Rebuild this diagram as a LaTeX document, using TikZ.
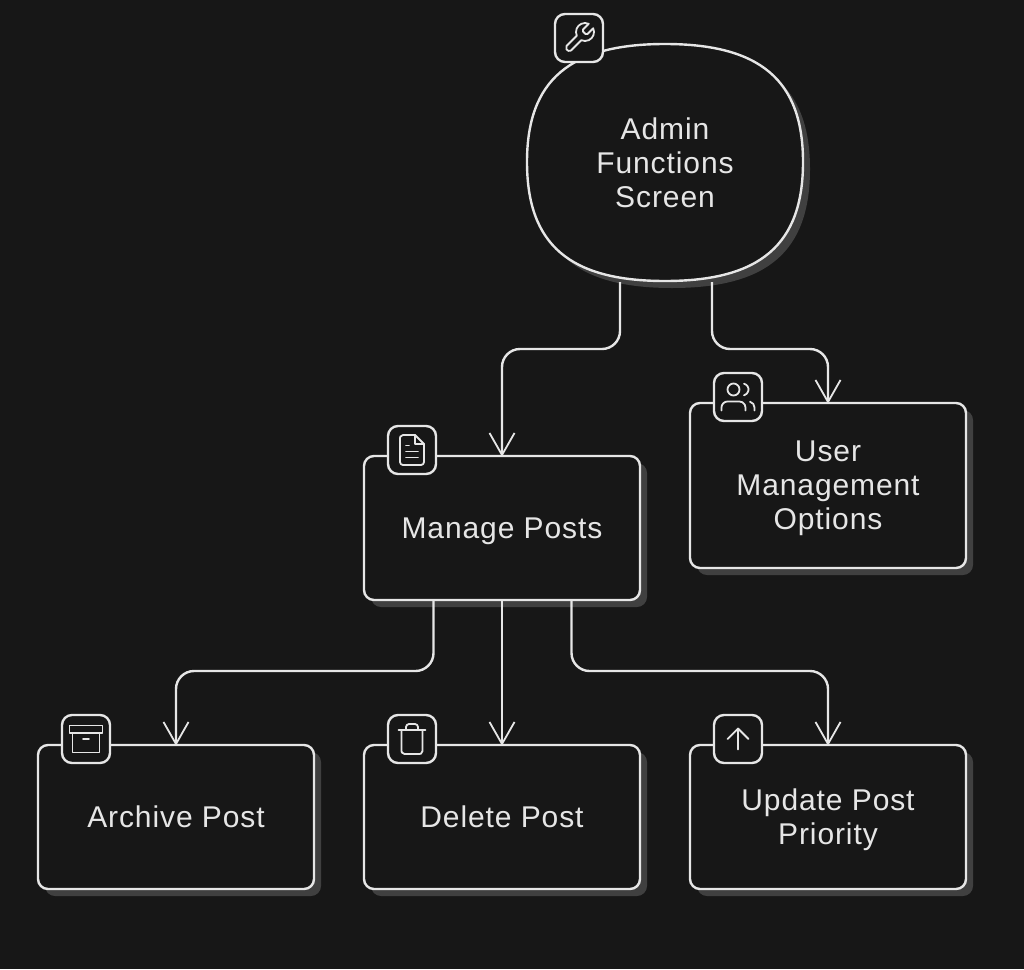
\documentclass[tikz,border=0pt]{standalone}
\usepackage{fontspec}
\setmainfont[LetterSpace=3]{Liberation Sans}
\usetikzlibrary{arrows.meta,calc,svg.path}
\definecolor{bgc}{HTML}{171717}
\definecolor{shc}{HTML}{404040}
\definecolor{lnc}{HTML}{E6E6E6}
\newcommand{\ls}{\rule[-7pt]{0pt}{34pt}}
\tikzset{
  box/.style={draw=lnc,line width=2.4pt,fill=bgc,rounded corners=10pt,minimum width=276pt,minimum height=144pt,inner sep=0pt,align=center,text=lnc,font=\fontsize{30}{34}\selectfont},
  shadowbox/.style={fill=shc,rounded corners=10pt},
  iconbox/.style={draw=lnc,line width=2.4pt,fill=bgc,rounded corners=10pt,minimum size=48pt,inner sep=0pt},
  conn/.style={draw=lnc,line width=2.4pt,rounded corners=18pt,shorten >=-2pt,-{Straight Barb[length=22pt,width=25pt,line width=1.8pt]}},
  glyph/.style={draw=lnc,line width=1.8pt,line cap=round,line join=round},
}
\newcommand{\glyphat}[2]{\begin{scope}[shift={(#1)},xscale=1.5,yscale=-1.5,shift={(-12,12)},glyph]#2\end{scope}}
\begin{document}
\begin{tikzpicture}[x=1pt,y=-1pt]
\useasboundingbox[fill=bgc] (0,0) rectangle (1024,969);
% shadows
\fill[shc,shift={(7,7)}] (527,162) .. controls (527,80) and (570,44) .. (665,44) .. controls (760,44) and (803,80) .. (803,162) .. controls (803,245) and (760,281) .. (665,281) .. controls (570,281) and (527,245) .. (527,162) -- cycle;
\fill[shadowbox] (371,463) rectangle (647,607);
\fill[shadowbox] (697,410) rectangle (973,575);
\fill[shadowbox] (45,752) rectangle (321,896);
\fill[shadowbox] (371,752) rectangle (647,896);
\fill[shadowbox] (697,752) rectangle (973,896);
% blob
\filldraw[draw=lnc,fill=bgc,line width=2.4pt] (527,162) .. controls (527,80) and (570,44) .. (665,44) .. controls (760,44) and (803,80) .. (803,162) .. controls (803,245) and (760,281) .. (665,281) .. controls (570,281) and (527,245) .. (527,162) -- cycle;
\node[inner sep=0pt,minimum width=276pt,minimum height=237pt,align=center,text=lnc,font=\fontsize{30}{34}\selectfont] (admin) at (665,163.5) {\ls Admin\\\ls Functions\\\ls Screen};
% boxes
\node[box] (manage) at (502,528) {\ls Manage Posts};
\node[box,minimum height=165pt] (users) at (828,485.5) {\ls User\\\ls Management\\\ls Options};
\node[box] (archive) at (176,817) {\ls Archive Post};
\node[box] (delete) at (502,817) {\ls Delete Post};
\node[box] (update) at (828,817) {\ls Update Post\\\ls Priority};
% connectors
\coordinate (r1) at (0,349);
\coordinate (r2) at (0,671);
\coordinate (a1) at ([xshift=-45pt]admin.south);
\coordinate (a2) at ([xshift=47pt]admin.south);
\coordinate (m1) at ([xshift=-68.5pt]manage.south);
\coordinate (m3) at ([xshift=69.5pt]manage.south);
\draw[conn] (a1) -- (a1|-r1) -- (manage.north|-r1) -- (manage.north);
\draw[conn] (a2) -- (a2|-r1) -- (users.north|-r1) -- (users.north);
\draw[conn] (m1) -- (m1|-r2) -- (archive.north|-r2) -- (archive.north);
\draw[conn] (manage.south) -- (delete.north);
\draw[conn] (m3) -- (m3|-r2) -- (update.north|-r2) -- (update.north);
% icon boxes
\node[iconbox] (iw) at (579,38) {};
\node[iconbox] (iu) at (738,397) {};
\node[iconbox] (if) at (412,450) {};
\node[iconbox] (ia) at (86,739) {};
\node[iconbox] (id) at (412,739) {};
\node[iconbox] (ip) at (738,739) {};
% glyphs
\glyphat{iw}{\draw svg {M14.7 6.3a1 1 0 0 0 0 1.4l1.6 1.6a1 1 0 0 0 1.4 0l3.77-3.77a6 6 0 0 1-7.94 7.94l-6.91 6.91a2.2 2.2 0 0 1-3-3l6.91-6.91a6 6 0 0 1 7.94-7.94l-3.76 3.76z};}
\glyphat{iu}{\draw svg {M17 21v-2a4 4 0 0 0-4-4H5a4 4 0 0 0-4 4v2}; \draw svg {M13 7a4 4 0 1 1-8 0a4 4 0 1 1 8 0z}; \draw svg {M23 21v-2a4 4 0 0 0-3-3.87}; \draw svg {M16 3.13a4 4 0 0 1 0 7.75};}
\glyphat{if}{\draw svg {M14 2H6a2 2 0 0 0-2 2v16a2 2 0 0 0 2 2h12a2 2 0 0 0 2-2V8z}; \draw svg {M14 2v6h6}; \draw svg {M16 13H8}; \draw svg {M16 17H8}; \draw svg {M10 9H8};}
\glyphat{ia}{\draw svg {M21 8V21H3V8}; \draw svg {M1 3H23V8H1z}; \draw svg {M10 12H14};}
\glyphat{id}{\draw svg {M3 6H21}; \draw svg {M19 6v14a2 2 0 0 1-2 2H7a2 2 0 0 1-2-2V6m3 0V4a2 2 0 0 1 2-2h4a2 2 0 0 1 2 2v2};}
\glyphat{ip}{\draw svg {M12 19V5}; \draw svg {M5 12L12 5L19 12};}
\end{tikzpicture}
\end{document}
